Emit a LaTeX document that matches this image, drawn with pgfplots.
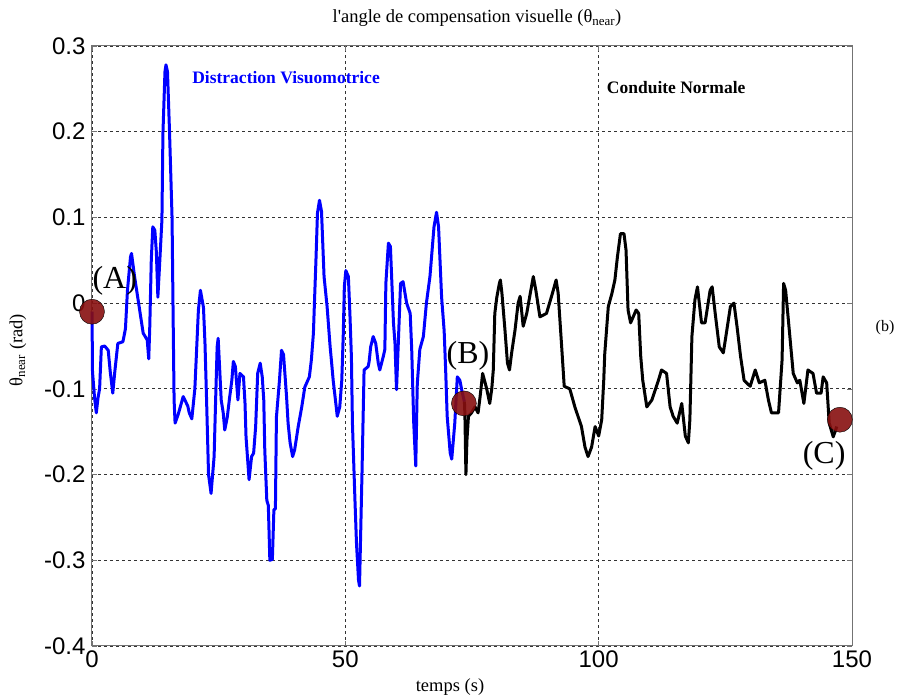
\documentclass[border=0pt]{standalone}
\usepackage{fontspec}
\setmainfont{Liberation Serif}
\setsansfont{Liberation Sans}
\usepackage{pgfplots}
\pgfplotsset{compat=1.18}
\definecolor{dotred}{RGB}{135,15,15}
\begin{document}
\begin{tikzpicture}
\useasboundingbox (-92pt,-54pt) rectangle (809pt,646pt);
\begin{axis}[
  anchor=south west, at={(0pt,0pt)},
  scale only axis, width=760pt, height=600pt,
  xmin=0, xmax=150, ymin=-0.4, ymax=0.3,
  xtick={0,50,100,150}, xticklabels={0,50,100,150},
  ytick={-0.4,-0.3,-0.2,-0.1,0,0.1,0.2,0.3},
  yticklabels={-0.4,-0.3,-0.2,-0.1,0,0.1,0.2,0.3},
  /pgf/number format/assume math mode=true,
  ticklabel style={font=\sffamily\fontsize{24}{24}\selectfont},
  xticklabel style={yshift=-1pt},
  yticklabel style={xshift=-3pt},
  axis line style={draw=black!55, line width=1pt},
  tick style={draw=black!55, line width=0.6pt},
  major tick length=5pt,
  grid=major,
  major grid style={draw=black!80, line width=0.8pt, dash pattern=on 3pt off 3pt},
  clip=false,
]
\addplot[blue, line width=3pt, line join=round] coordinates {
(0,-0.01) (0.1,-0.08) (0.5,-0.11) (0.85,-0.128) (1.2,-0.11) (1.5,-0.1) (1.85,-0.051)
(2.5,-0.05) (3.2,-0.055) (3.6,-0.08) (4.1,-0.105) (4.5,-0.08) (5.1,-0.047) (6.1,-0.045)
(6.6,-0.03) (7.0,0.015) (7.6,0.054) (7.8,0.058) (8.4,0.031) (9.2,0.0) (10.1,-0.035)
(10.9,-0.043) (11.2,-0.065) (11.4,-0.028) (11.7,0.05) (12.0,0.089) (12.4,0.085)
(12.7,0.06) (13.0,0.007) (13.3,0.04) (13.8,0.097) (14.0,0.198) (14.4,0.27) (14.6,0.278)
(14.9,0.27) (15.3,0.2) (15.8,0.1) (16.0,-0.01) (16.2,-0.113) (16.4,-0.14) (17.0,-0.13)
(18.0,-0.109) (18.9,-0.12) (19.2,-0.128) (19.7,-0.135) (20.3,-0.1) (21.0,-0.008)
(21.4,0.015) (22.0,-0.005) (22.3,-0.047) (22.6,-0.11) (23.0,-0.2) (23.5,-0.222)
(24.1,-0.179) (24.4,-0.113) (24.7,-0.051) (24.9,-0.041) (25.5,-0.113) (25.9,-0.128)
(26.2,-0.148) (26.7,-0.133) (27.1,-0.113) (27.6,-0.09) (27.9,-0.068) (28.3,-0.074)
(28.5,-0.09) (28.8,-0.113) (29.2,-0.082) (29.9,-0.086) (30.2,-0.117) (30.4,-0.156)
(31.0,-0.206) (31.5,-0.179) (31.9,-0.175) (32.3,-0.144) (32.7,-0.082) (33.2,-0.07)
(33.6,-0.086) (33.9,-0.113) (34.1,-0.171) (34.5,-0.23) (34.8,-0.236) (35.1,-0.3)
(35.6,-0.299) (35.9,-0.241) (36.2,-0.24) (36.4,-0.133) (37.0,-0.09) (37.4,-0.055)
(37.8,-0.06) (38.4,-0.109) (38.7,-0.14) (39.1,-0.163) (39.6,-0.179) (40.0,-0.171)
(40.7,-0.144) (41.4,-0.121) (42.0,-0.098) (42.9,-0.086) (43.3,-0.066) (43.7,-0.035)
(43.9,0.0) (44.2,0.05) (44.5,0.105) (44.9,0.12) (45.3,0.107) (45.8,0.031) (46.4,-0.004)
(47.0,-0.051) (47.3,-0.07) (47.6,-0.09) (48.2,-0.121) (48.4,-0.132) (48.9,-0.121)
(49.3,-0.09) (49.6,-0.035) (49.8,0.019) (50.1,0.038) (50.6,0.031) (50.9,-0.012)
(51.2,-0.063) (51.4,-0.14) (51.9,-0.23) (52.2,-0.28) (52.6,-0.323) (52.8,-0.33)
(53.0,-0.276) (53.3,-0.195) (53.5,-0.136) (53.7,-0.078) (54.5,-0.074) (54.7,-0.068)
(55.0,-0.051) (55.5,-0.039) (56.0,-0.047) (56.5,-0.07) (56.8,-0.078) (57.5,-0.062)
(57.8,-0.054) (58.0,0.023) (58.5,0.07) (58.9,0.066) (59.5,-0.023) (59.8,-0.047)
(60.1,-0.101) (60.4,-0.055) (60.9,0.023) (61.4,0.025) (62.1,0.0) (62.8,-0.012)
(63.1,-0.054) (63.5,-0.14) (63.9,-0.19) (64.2,-0.094) (64.7,-0.054) (65.4,-0.039)
(66.0,0.0) (66.7,0.031) (67.5,0.089) (68.0,0.106) (68.4,0.089) (69.0,0.007)
(69.5,-0.032) (69.8,-0.078) (70.1,-0.132) (70.7,-0.175) (71.0,-0.182) (71.6,-0.14)
(72.1,-0.086) (72.6,-0.09) (73.1,-0.105) (73.5,-0.115)
};
\addplot[black, line width=3pt, line join=round] coordinates {
(73.5,-0.115) (73.6,-0.13) (73.8,-0.2) (74.0,-0.16) (74.3,-0.132) (74.9,-0.128)
(75.6,-0.121) (76.2,-0.128) (76.6,-0.109) (77.1,-0.082) (77.9,-0.1) (78.5,-0.117)
(78.9,-0.1) (79.2,-0.078) (79.5,-0.012) (79.9,0.007) (80.4,0.023) (80.6,0.027)
(80.9,0.012) (81.5,-0.031) (82.0,-0.07) (82.4,-0.078) (82.8,-0.059) (83.5,-0.031)
(84.1,0.0) (84.5,0.008) (85.1,-0.027) (85.8,-0.012) (86.4,0.008) (87.1,0.031)
(87.6,0.015) (88.4,-0.016) (89.7,-0.012) (90.9,0.012) (91.6,0.027) (92.0,0.012)
(92.7,-0.051) (93.2,-0.097) (94.3,-0.1) (95.3,-0.121) (96.6,-0.144) (97.3,-0.168)
(97.9,-0.179) (98.6,-0.168) (99.3,-0.144) (100.0,-0.155) (100.6,-0.136) (101.0,-0.09)
(101.2,-0.059) (101.9,-0.004) (102.6,0.011) (103.2,0.027) (103.7,0.054) (104.3,0.081)
(105.0,0.081) (105.4,0.062) (105.8,-0.008) (106.3,-0.023) (107.4,-0.008) (107.9,-0.012)
(108.3,-0.062) (108.7,-0.09) (109.5,-0.121) (110.5,-0.113) (111.8,-0.09) (112.4,-0.078)
(113.4,-0.082) (114.1,-0.121) (114.7,-0.132) (115.5,-0.14) (116.4,-0.117) (117.1,-0.155)
(117.7,-0.163) (118.0,-0.136) (118.4,-0.039) (119.0,0.004) (119.5,0.019) (120.3,-0.023)
(121.0,-0.023) (122.0,0.015) (122.4,0.019) (123.0,-0.012) (123.8,-0.051) (124.6,-0.058)
(125.1,-0.039) (126.0,-0.004) (126.7,0.0) (127.3,-0.027) (128.0,-0.062) (128.7,-0.09)
(129.9,-0.097) (130.9,-0.078) (131.7,-0.093) (132.8,-0.09) (133.5,-0.113) (134.1,-0.128)
(135.5,-0.128) (136.2,-0.066) (136.5,0.023) (136.9,0.015) (137.8,-0.043) (138.4,-0.082)
(139.2,-0.093) (139.7,-0.09) (140.5,-0.117) (141.3,-0.078) (142.3,-0.082) (143.0,-0.105)
(143.9,-0.105) (144.3,-0.086) (145.0,-0.093) (145.5,-0.14) (146.3,-0.156) (147.0,-0.144)
};
\addplot[only marks, mark=*, mark size=12.5pt, mark options={fill=dotred, draw=none, fill opacity=0.9}] coordinates {
(0,-0.01) (73.4,-0.117) (147.6,-0.136)
};
\node[font=\fontsize{32}{32}\selectfont] at (axis cs:4.5,0.026) {(A)};
\node[font=\fontsize{32}{32}\selectfont] at (axis cs:74.2,-0.061) {(B)};
\node[font=\fontsize{32}{32}\selectfont] at (axis cs:144.5,-0.178) {(C)};
\node[font=\bfseries\fontsize{17.5}{18}\selectfont, text=blue] at (axis cs:38.3,0.263) {Distraction Visuomotrice};
\node[font=\bfseries\fontsize{17.5}{18}\selectfont] at (axis cs:115.3,0.252) {Conduite Normale};
\end{axis}
\node[font=\fontsize{18.5}{20}\selectfont] at (385pt,628pt) {l\textquotesingle angle de compensation visuelle (θ\textsubscript{near})};
\node[font=\fontsize{18.5}{20}\selectfont] at (358pt,-41pt) {temps (s)};
\node[font=\fontsize{18.5}{20}\selectfont, rotate=90] at (-74pt,296pt) {θ\textsubscript{near} (rad)};
\node[font=\fontsize{16}{18}\selectfont] at (793pt,318pt) {(b)};
\end{tikzpicture}
\end{document}
